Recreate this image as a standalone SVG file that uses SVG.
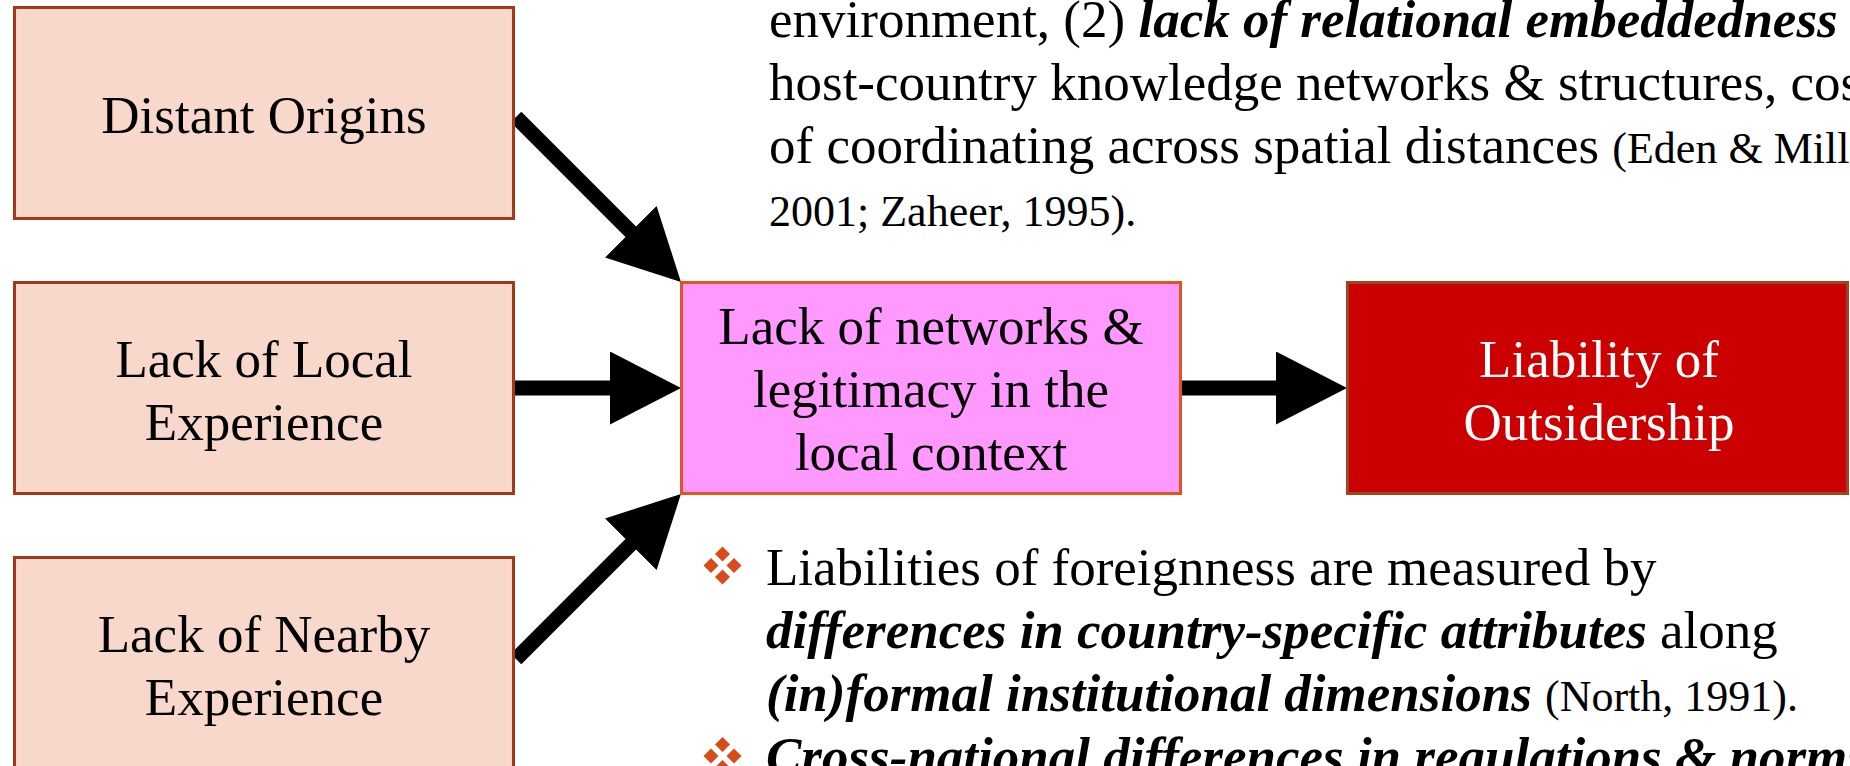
<svg xmlns="http://www.w3.org/2000/svg" width="1850" height="766" viewBox="0 0 1850 766">
  <style>
    .serif { font-family: "Liberation Serif", "Times New Roman", serif; font-size: 53px; fill: #000; }
    .label { text-anchor: middle; }
    .white { fill: #fff; }
    .bi { font-weight: bold; font-style: italic; }
    .cite { font-size: 44px; }
    .src { fill: #F8D8CB; stroke: #A3391A; stroke-width: 3; }
    .mid { fill: #FF99FF; stroke: #E0541E; stroke-width: 3; }
    .out { fill: #CC0000; stroke: #9C4423; stroke-width: 3; }
    .conn { stroke: #000; stroke-width: 15; fill: none; marker-end: url(#head); }
    .dot { fill: #D84B1A; }
  </style>
  <defs>
    <marker id="head" markerUnits="userSpaceOnUse" viewBox="0 0 71 73" markerWidth="71" markerHeight="73" refX="6" refY="36.5" orient="auto">
      <path d="M0,0 L71,36.5 L0,73 Z" fill="#000"/>
    </marker>
    <!-- four-diamond list bullet -->
    <g id="bullet">
      <polygon class="dot" points="0,-19 7.5,-11.5 0,-4 -7.5,-11.5"/>
      <polygon class="dot" points="-11.5,-7.5 -4,0 -11.5,7.5 -19,0"/>
      <polygon class="dot" points="11.5,-7.5 19,0 11.5,7.5 4,0"/>
      <polygon class="dot" points="0,4 7.5,11.5 0,19 -7.5,11.5"/>
    </g>
  </defs>

  <!-- connectors -->
  <g id="connectors">
    <line class="conn" x1="516" y1="117" x2="635" y2="236"/>
    <line class="conn" x1="514" y1="388" x2="616" y2="388"/>
    <line class="conn" x1="516" y1="659" x2="635" y2="540"/>
    <line class="conn" x1="1182" y1="388" x2="1282" y2="388"/>
  </g>

  <g id="distant-origins">
    <rect class="src" x="14.5" y="7.5" width="499" height="211"/>
    <text class="serif label" x="264" y="133">Distant Origins</text>
  </g>

  <g id="local-experience">
    <rect class="src" x="14.5" y="282.5" width="499" height="211"/>
    <text class="serif label" x="264" y="377">Lack of Local</text>
    <text class="serif label" x="264" y="440">Experience</text>
  </g>

  <g id="nearby-experience">
    <rect class="src" x="14.5" y="557.5" width="499" height="211"/>
    <text class="serif label" x="264" y="652">Lack of Nearby</text>
    <text class="serif label" x="264" y="715">Experience</text>
  </g>

  <g id="networks-legitimacy">
    <rect class="mid" x="681.5" y="282.5" width="499" height="211"/>
    <text class="serif label" x="931" y="344">Lack of networks &amp;</text>
    <text class="serif label" x="931" y="407">legitimacy in the</text>
    <text class="serif label" x="931" y="470">local context</text>
  </g>

  <g id="liability-outsidership">
    <rect class="out" x="1347.5" y="282.5" width="500" height="211"/>
    <text class="serif label white" x="1599" y="377">Liability of</text>
    <text class="serif label white" x="1599" y="440">Outsidership</text>
  </g>

  <!-- explanatory text above the flow -->
  <g id="notes-top">
    <text class="serif" x="769" y="37">environment, (2) <tspan class="bi">lack of relational embeddedness</tspan></text>
    <text class="serif" x="769" y="100">host-country knowledge networks &amp; structures, cos</text>
    <text class="serif" x="769" y="163">of coordinating across spatial distances <tspan class="cite">(Eden &amp; Mill</tspan></text>
    <text class="serif cite" x="769" y="226">2001; Zaheer, 1995).</text>
  </g>

  <!-- bulleted notes below the flow -->
  <g id="notes-bottom">
    <use href="#bullet" x="722.5" y="565.5"/>
    <text class="serif" x="766" y="585">Liabilities of foreignness are measured by</text>
    <text class="serif" x="766" y="648"><tspan class="bi">differences in country-specific attributes</tspan> along</text>
    <text class="serif" x="766" y="711"><tspan class="bi">(in)formal institutional dimensions</tspan> <tspan class="cite">(North, 1991).</tspan></text>
    <use href="#bullet" x="722.5" y="756"/>
    <text class="serif bi" x="766" y="774">Cross-national differences in regulations &amp; norms</text>
  </g>
</svg>
